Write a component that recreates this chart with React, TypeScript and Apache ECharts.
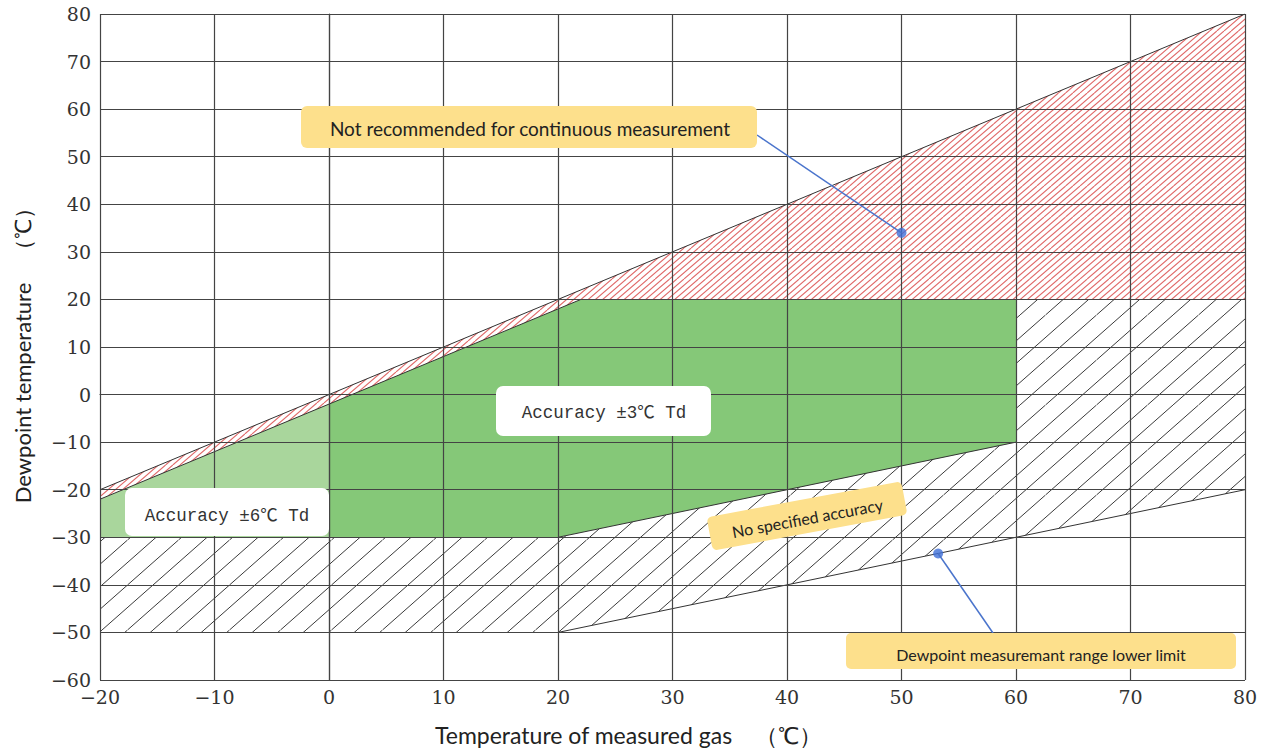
import React, { useEffect, useRef } from 'react';
import * as echarts from 'echarts';

type Pt = [number, number];

// Axis ranges (°C)
const X_MIN = -20;
const X_MAX = 80;
const X_STEP = 10;
const Y_MIN = -60;
const Y_MAX = 80;
const Y_STEP = 10;

// Regions (gas temperature, dewpoint temperature)
const notRecommendedRegion: Pt[] = [[-20, -20], [80, 80], [80, 20], [22, 20], [-20, -22]];
const accuracy3Region: Pt[] = [[0, -2], [22, 20], [60, 20], [60, -10], [20, -30], [0, -30]];
const accuracy6Region: Pt[] = [[-20, -22], [0, -2], [0, -30], [-20, -30]];
const noAccuracyRegion: Pt[] = [[-20, -30], [20, -30], [60, -10], [60, 20], [80, 20], [80, -20], [20, -50], [-20, -50]];

// Boundary lines
const upperLimitLine: Pt[] = [[-20, -20], [80, 80]];
const accuracyEdgeLine: Pt[] = [[-20, -22], [22, 20]];
const accuracyLowerLine: Pt[] = [[20, -30], [60, -10]];
const lowerLimitLine: Pt[] = [[20, -50], [80, -20]];

// Annotation anchor points
const notRecommendedAnchor: Pt = [50, 34];
const lowerLimitAnchor: Pt = [53.2, -33.4];

const notRecommendedText = 'Not recommended for continuous measurement';
const lowerLimitText = 'Dewpoint measuremant range lower limit';
const noAccuracyText = 'No specified accuracy';
const accuracy3Text = 'Accuracy ±3℃ Td';
const accuracy6Text = 'Accuracy ±6℃ Td';
const xTitle = 'Temperature of measured gas　（℃）';
const yTitle = 'Dewpoint temperature　（℃）';

// Hatch tile: family of lines x/sx + y/sy = k, repeated `reps` times across the tile
function makeHatch(sx: number, sy: number, reps: number, color: string, lw: number) {
  const w = sx * reps;
  const h = sy * reps;
  const c = document.createElement('canvas');
  c.width = w;
  c.height = h;
  const ctx = c.getContext('2d')!;
  ctx.fillStyle = '#ffffff';
  ctx.fillRect(0, 0, w, h);
  ctx.strokeStyle = color;
  ctx.lineWidth = lw;
  ctx.beginPath();
  for (let k = -1; k <= 2 * reps + 1; k++) {
    ctx.moveTo(sx * k, 0);
    ctx.lineTo(sx * k - w, h);
  }
  ctx.stroke();
  return { image: c, repeat: 'repeat', imageWidth: w, imageHeight: h };
}

export default function App() {
  const ref = useRef<HTMLDivElement>(null);

  useEffect(() => {
    const chart = echarts.init(ref.current!, null, { renderer: 'svg' });
    const redHatch = makeHatch(7.2, 6.2, 5, '#e06a6a', 1.1);
    const blackHatch = makeHatch(25.5, 22.5, 2, '#3a3a3a', 1);

    const poly = (name: string, pts: Pt[], fill: any) => ({
      type: 'custom',
      name,
      coordinateSystem: 'cartesian2d',
      silent: true,
      z: 1,
      data: [[pts[0][0], pts[0][1]]],
      renderItem: (_p: any, api: any) => ({
        type: 'polygon',
        shape: { points: pts.map((p) => api.coord(p)) },
        style: { fill, stroke: 'none' },
      }),
    });
    const line = (name: string, pts: Pt[]) => ({
      type: 'line',
      name,
      data: pts,
      symbol: 'none',
      silent: true,
      z: 3,
      lineStyle: { color: '#333', width: 1 },
    });

    const minus = (v: number) => String(v).replace('-', '−');

    chart.setOption({
      animation: false,
      grid: { left: 100, right: 31, top: 14, bottom: 71, containLabel: false },
      xAxis: {
        type: 'value',
        min: X_MIN,
        max: X_MAX,
        interval: X_STEP,
        z: 10,
        axisLine: { show: true, lineStyle: { color: '#444', width: 1.2 } },
        axisTick: { show: false },
        splitLine: { show: true, lineStyle: { color: '#444', width: 1.2 } },
        axisLabel: { color: '#333', fontFamily: 'DejaVu Serif', fontSize: 19, margin: 7, formatter: minus },
      },
      yAxis: {
        type: 'value',
        min: Y_MIN,
        max: Y_MAX,
        interval: Y_STEP,
        z: 10,
        axisLine: { show: true, lineStyle: { color: '#444', width: 1.2 } },
        axisTick: { show: false },
        splitLine: { show: true, lineStyle: { color: '#444', width: 1.2 } },
        axisLabel: { color: '#333', fontFamily: 'DejaVu Serif', fontSize: 19, margin: 9, formatter: minus },
      },
      series: [
        poly('notRecommended', notRecommendedRegion, redHatch),
        poly('noAccuracy', noAccuracyRegion, blackHatch),
        poly('accuracy3', accuracy3Region, '#85c878'),
        poly('accuracy6', accuracy6Region, '#a9d69c'),
        line('upper', upperLimitLine),
        line('edge', accuracyEdgeLine),
        line('accLower', accuracyLowerLine),
        line('lower', lowerLimitLine),
        {
          type: 'scatter',
          data: [notRecommendedAnchor, lowerLimitAnchor],
          symbolSize: 10,
          z: 20,
          itemStyle: { color: '#3f6fd8' },
          silent: true,
        },
      ],
    });

    const a1 = chart.convertToPixel({ gridIndex: 0 }, notRecommendedAnchor) as number[];
    const a2 = chart.convertToPixel({ gridIndex: 0 }, lowerLimitAnchor) as number[];
    const yellow = '#fde08c';
    const blue = '#4a74cc';
    const labelFont = 'Lato, "Open Sans", sans-serif';

    chart.setOption({
      graphic: [
        // connectors
        { type: 'line', z: 50, shape: { x1: 757, y1: 135, x2: a1[0], y2: a1[1] }, style: { stroke: blue, lineWidth: 1.5 } },
        { type: 'line', z: 50, shape: { x1: 993, y1: 633, x2: a2[0], y2: a2[1] }, style: { stroke: blue, lineWidth: 1.5 } },
        // not recommended
        { type: 'rect', z: 60, shape: { x: 301, y: 106, width: 456, height: 42, r: 6 }, style: { fill: yellow } },
        {
          type: 'text', z: 61, x: 530, y: 128,
          style: { text: notRecommendedText, fill: '#222', font: `19px ${labelFont}`, align: 'center', verticalAlign: 'middle' },
        },
        // lower limit
        { type: 'rect', z: 60, shape: { x: 846, y: 633, width: 390, height: 36, r: 5 }, style: { fill: yellow } },
        {
          type: 'text', z: 61, x: 1041, y: 654,
          style: { text: lowerLimitText, fill: '#222', font: `16px ${labelFont}`, align: 'center', verticalAlign: 'middle' },
        },
        // no specified accuracy (rotated)
        {
          type: 'group', z: 60, x: 807, y: 516, rotation: (10.5 * Math.PI) / 180,
          children: [
            { type: 'rect', z: 60, shape: { x: -99, y: -17, width: 198, height: 34, r: 5 }, style: { fill: yellow } },
            {
              type: 'text', z: 61, x: 0, y: 2,
              style: { text: noAccuracyText, fill: '#222', font: `16px ${labelFont}`, align: 'center', verticalAlign: 'middle' },
            },
          ],
        },
        // accuracy boxes
        { type: 'rect', z: 60, shape: { x: 496, y: 386, width: 215, height: 50, r: 7 }, style: { fill: '#ffffff' } },
        {
          type: 'text', z: 61, x: 604, y: 413,
          style: { text: accuracy3Text, fill: '#333', font: '17.5px "Liberation Mono", "Noto Sans CJK SC", monospace', align: 'center', verticalAlign: 'middle' },
        },
        { type: 'rect', z: 60, shape: { x: 125, y: 488, width: 204, height: 48, r: 7 }, style: { fill: '#ffffff' } },
        {
          type: 'text', z: 61, x: 227, y: 516,
          style: { text: accuracy6Text, fill: '#333', font: '17.5px "Liberation Mono", "Noto Sans CJK SC", monospace', align: 'center', verticalAlign: 'middle' },
        },
        // axis titles
        {
          type: 'text', z: 61, x: 435, y: 735,
          style: { text: xTitle, fill: '#222', font: `23px ${labelFont}`, align: 'left', verticalAlign: 'middle' },
        },
        {
          type: 'group', x: 22, y: 350, rotation: Math.PI / 2,
          children: [
            {
              type: 'text', z: 61, x: 0, y: 0,
              style: { text: yTitle, fill: '#222', font: `22px ${labelFont}`, align: 'center', verticalAlign: 'middle' },
            },
          ],
        },
      ],
    });

    return () => chart.dispose();
  }, []);

  return (
    <div
      ref={ref}
      style={{ position: 'absolute', left: 0, top: 0, width: 1276, height: 751, background: '#fff' }}
    />
  );
}
